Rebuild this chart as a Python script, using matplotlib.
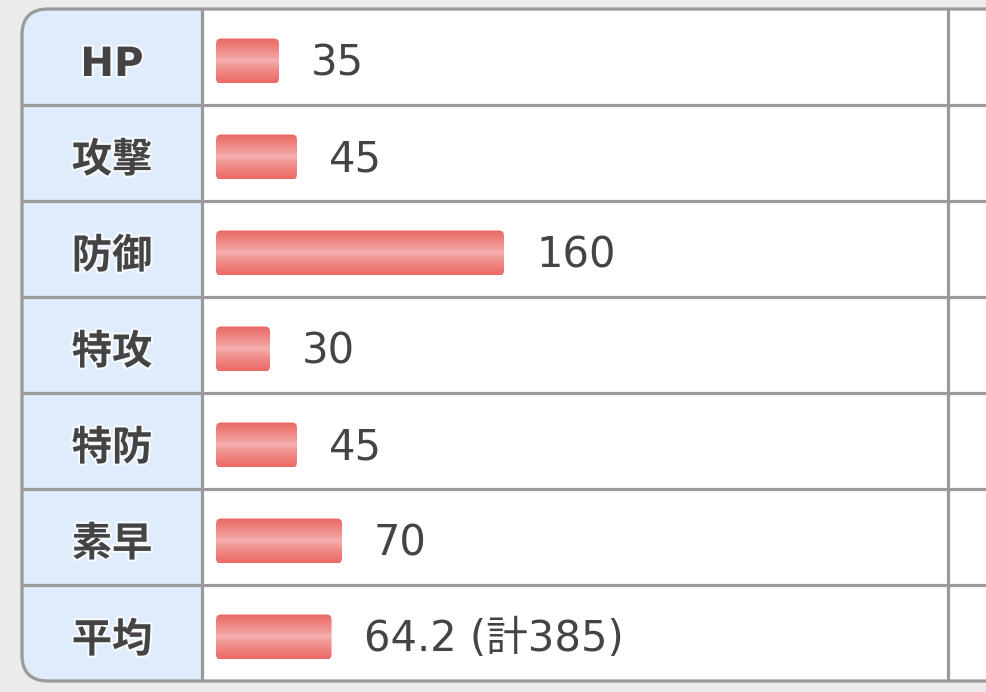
#!/usr/bin/env python3
import matplotlib
matplotlib.use('Agg')
from matplotlib import pyplot as plt
from matplotlib.patches import FancyBboxPatch, Rectangle
import matplotlib.patheffects as pe
import numpy as np

# stat table data
labels = ['HP', '攻撃', '防御', '特攻', '特防', '素早', '平均']
values = [35, 45, 160, 30, 45, 70, 64.2]
value_texts = ['35', '45', '160', '30', '45', '70', '64.2 (計385)']

W, H = 986, 692
GRID = '#9a9a9a'
TEXT = '#444444'
FONT = ['DejaVu Sans', 'Noto Sans CJK JP']

# table geometry in pixels
top, bottom = 9, 681
left, col1, col2 = 22, 202, 948
row_h = (bottom - top) / len(labels)
bar_x0 = 216
px_per_unit = 1.8


def gradientBar(ax, x, y, w, h, aspect):
    """
    Draws one rounded bar filled with a red-white-red vertical gradient.
    """
    box = FancyBboxPatch((x, y), w, h, boxstyle='round,pad=0,rounding_size=2.8',
                         mutation_aspect=aspect, facecolor='none',
                         edgecolor='none', zorder=3)
    ax.add_patch(box)
    t = np.linspace(0, 1, 64)
    mix = np.abs(t - 0.5) * 2  # 1 at edges, 0 in middle
    mix = mix ** 0.7
    edge = np.array([235, 106, 102]) / 255
    mid = np.array([246, 182, 180]) / 255
    grad = (mid[None, :] * (1 - mix[:, None]) + edge[None, :] * mix[:, None])
    img = ax.imshow(grad[:, None, :], extent=(x, x + w, y + h, y),
                    aspect='auto', interpolation='bilinear', zorder=3)
    img.set_clip_path(box)


def main():
    fig = plt.figure(figsize=(W / 100, H / 100), dpi=100, facecolor='#ebebeb')

    # table frame drawn in pixel coordinates
    base = fig.add_axes([0, 0, 1, 1])
    base.set_xlim(0, W)
    base.set_ylim(H, 0)
    base.axis('off')

    frame = FancyBboxPatch((left, top), W + 40 - left, bottom - top,
                           boxstyle='round,pad=0,rounding_size=26',
                           facecolor='white', edgecolor='none', zorder=1)
    base.add_patch(frame)
    head = Rectangle((left, top), col1 - left, bottom - top,
                     facecolor='#deecfc', edgecolor='none', zorder=1)
    base.add_patch(head)
    head.set_clip_path(frame)
    outline = FancyBboxPatch((left, top), W + 40 - left, bottom - top,
                             boxstyle='round,pad=0,rounding_size=26',
                             facecolor='none', edgecolor=GRID, lw=2.3, zorder=4)
    base.add_patch(outline)

    for i in range(1, len(labels)):
        y = top + i * row_h
        base.plot([left, W], [y, y], color=GRID, lw=2.3, zorder=4,
                  solid_capstyle='butt')
    for x in (col1, col2):
        base.plot([x, x], [top, bottom], color=GRID, lw=2.3, zorder=4,
                  solid_capstyle='butt')

    for i, lab in enumerate(labels):
        base.text(112, top + (i + 0.5) * row_h + 8, lab, ha='center',
                  va='center', fontsize=29, fontweight='bold', color=TEXT,
                  family=FONT, zorder=5,
                  path_effects=[pe.withStroke(linewidth=3, foreground='white',
                                              alpha=0.8)])

    # bars drawn in stat units
    ax = fig.add_axes([bar_x0 / W, (H - bottom) / H,
                       (col2 - bar_x0) / W, (bottom - top) / H])
    ax.set_xlim(0, (col2 - bar_x0) / px_per_unit)
    ax.set_ylim(len(labels) - 0.5, -0.5)
    ax.axis('off')
    ax.patch.set_alpha(0)

    bar_h = 45 / row_h
    shift = 4 / row_h
    aspect = (1 / row_h) / (1 / px_per_unit)
    gap = 32 / px_per_unit
    for i, (v, txt) in enumerate(zip(values, value_texts)):
        gradientBar(ax, 0, i - bar_h / 2 + shift, v, bar_h, aspect)
        ax.text(v + gap, i + 6 / row_h, txt, ha='left', va='center',
                fontsize=30, color=TEXT, family=FONT, zorder=5)
    ax.set_xlim(0, (col2 - bar_x0) / px_per_unit)
    ax.set_ylim(len(labels) - 0.5, -0.5)

    fig.savefig('out.png', dpi=100, facecolor=fig.get_facecolor())


if __name__ == '__main__':
    main()
